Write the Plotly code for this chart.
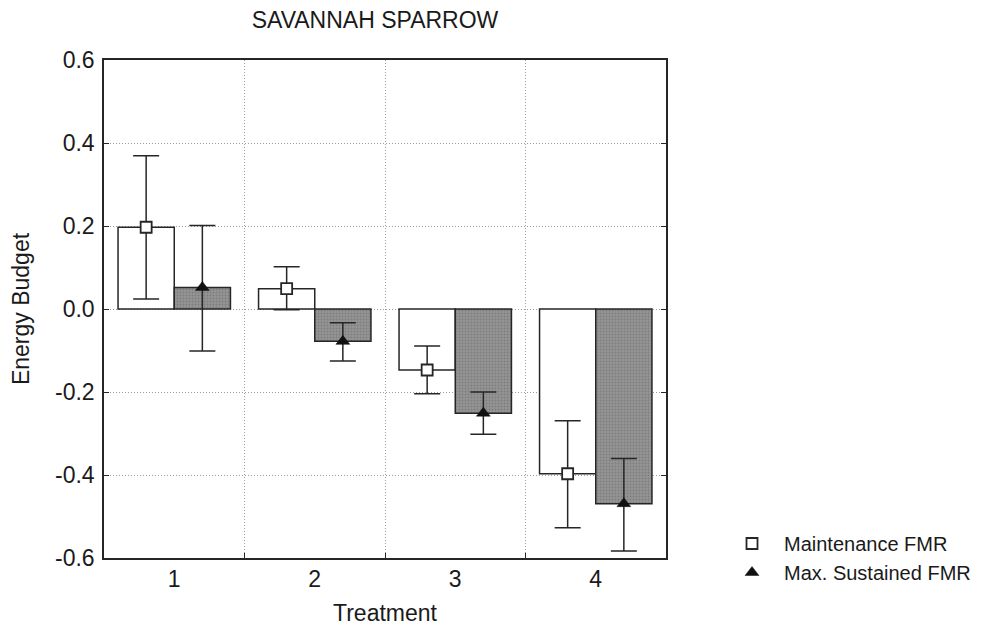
import numpy as np
import plotly.graph_objects as go

# ---- data ----
treatments = [1, 2, 3, 4]
maint_mean = [0.197, 0.049, -0.147, -0.397]
maint_upper = [0.369, 0.102, -0.089, -0.269]
maint_lower = [0.024, -0.002, -0.204, -0.527]
maxs_mean = [0.052, -0.078, -0.251, -0.469]
maxs_upper = [0.201, -0.033, -0.200, -0.360]
maxs_lower = [-0.101, -0.125, -0.302, -0.583]
y_ticks = [0.6, 0.4, 0.2, 0.0, -0.2, -0.4, -0.6]
y_tick_labels = ["0.6", "0.4", "0.2", "0.0", "-0.2", "-0.4", "-0.6"]
series_names = ["Maintenance FMR", "Max. Sustained FMR"]

FONT = "Liberation Sans, Arial, sans-serif"
INK = "#262626"
TXT = "#1a1a1a"
GRID = "#9c9c9c"

m_plus = np.array(maint_upper) - np.array(maint_mean)
m_minus = np.array(maint_mean) - np.array(maint_lower)
x_plus = np.array(maxs_upper) - np.array(maxs_mean)
x_minus = np.array(maxs_mean) - np.array(maxs_lower)

fig = go.Figure()

fig.add_trace(go.Bar(
    x=treatments, y=maint_mean, name=series_names[0], showlegend=False,
    offsetgroup="m", marker=dict(color="white", line=dict(color=INK, width=1.5)),
    error_y=dict(type="data", symmetric=False, array=m_plus, arrayminus=m_minus,
                 color=INK, thickness=1.5, width=13),
    hoverinfo="skip",
))
fig.add_trace(go.Bar(
    x=treatments, y=maxs_mean, name=series_names[1], showlegend=False,
    offsetgroup="s",
    marker=dict(color="#8a8a8a", line=dict(color=INK, width=1.5),
                pattern=dict(shape=".", size=3, solidity=0.35,
                             fgcolor="#666666", bgcolor="#959595")),
    error_y=dict(type="data", symmetric=False, array=x_plus, arrayminus=x_minus,
                 color=INK, thickness=1.5, width=13),
    hoverinfo="skip",
))
fig.add_trace(go.Scatter(
    x=treatments, y=maint_mean, name=series_names[0], mode="markers",
    offsetgroup="m",
    marker=dict(symbol="square", size=11, color="white", line=dict(color=INK, width=1.8)),
))
fig.add_trace(go.Scatter(
    x=treatments, y=maxs_mean, name=series_names[1], mode="markers",
    offsetgroup="s",
    marker=dict(symbol="triangle-up", size=12, color="#111111", line=dict(color="#111111", width=0.5)),
))

boundaries = [t + 0.5 for t in treatments[:-1]]

W, H = 980, 620  # page body adds an 8px margin
fig.update_layout(
    width=W, height=H,
    margin=dict(l=96, r=322, t=52, b=70, autoexpand=False),
    paper_bgcolor="white", plot_bgcolor="white",
    barmode="group", bargap=0.2, bargroupgap=0.0,
    scattermode="group", scattergap=0.2,
    font=dict(family=FONT, size=22, color=TXT),
    title=dict(text="SAVANNAH SPARROW", x=367 / W, xanchor="center",
               y=1 - 12 / H, yanchor="middle", xref="container", yref="container",
               font=dict(size=23, family=FONT, color=TXT)),
    xaxis=dict(
        range=[treatments[0] - 0.5, treatments[-1] + 0.5],
        tickmode="array", tickvals=treatments, ticktext=[str(t) for t in treatments],
        ticks="", showgrid=False, zeroline=False, automargin=False,
        showline=True, linecolor=INK, linewidth=1.5, mirror=True,
        tickfont=dict(size=23), ticklabelstandoff=0,
        minor=dict(tickmode="array", tickvals=boundaries, ticks="inside", ticklen=5,
                   tickcolor=INK, showgrid=True, griddash="1px,2px", gridcolor=GRID,
                   gridwidth=1),
        title=dict(text="Treatment", font=dict(size=23), standoff=14),
    ),
    yaxis=dict(
        range=[y_ticks[-1], y_ticks[0]],
        tickmode="array", tickvals=y_ticks, ticktext=y_tick_labels,
        ticks="inside", ticklen=5, tickcolor=INK,
        showgrid=True, griddash="1px,2px", gridcolor=GRID, gridwidth=1,
        zeroline=False, automargin=False,
        showline=True, linecolor=INK, linewidth=1.5, mirror="ticks",
        tickfont=dict(size=23), ticklabelstandoff=3,
        title=dict(text="Energy Budget", font=dict(size=23), standoff=20),
    ),
    legend=dict(
        x=(720 - 104) / 562, xanchor="left", y=0.0, yanchor="middle",
        font=dict(size=20, family=FONT, color=TXT),
        bgcolor="rgba(0,0,0,0)", borderwidth=0, itemwidth=54,
    ),
)

fig.write_html("out.html")
